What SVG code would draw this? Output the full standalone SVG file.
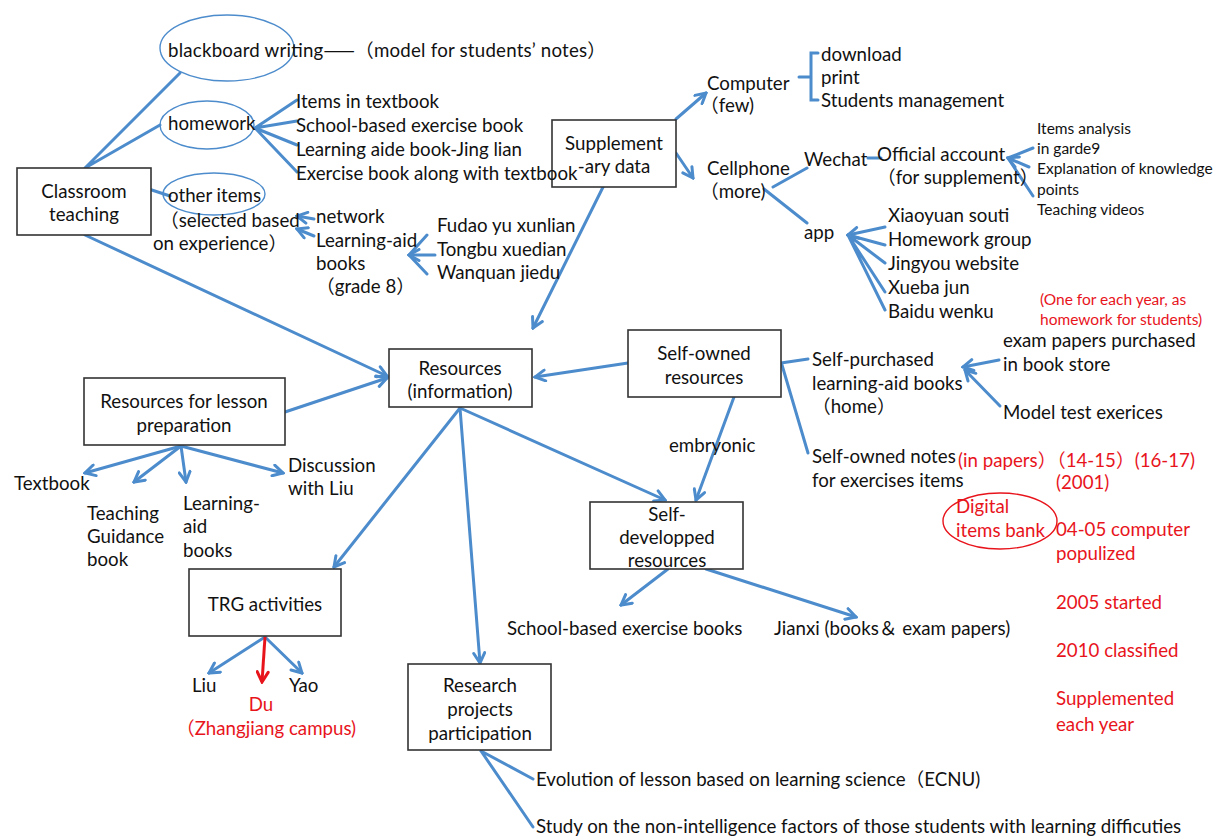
<svg xmlns="http://www.w3.org/2000/svg" width="1216" height="836" viewBox="0 0 1216 836">
<style>
text{font-family:Lato,"Noto Sans CJK SC",sans-serif;font-size:18.7px;fill:#111}
.c{text-anchor:middle}
.s{font-size:15.5px}
.r{fill:#e8141c}
.cjk{font-family:"Noto Sans CJK SC",sans-serif}
.box{fill:#fff;stroke:#333;stroke-width:1.6}
.ln{fill:none;stroke:#4d8ccc;stroke-width:3;stroke-linecap:round}
.ar{marker-end:url(#ah)}
.el{fill:none;stroke:#4d8ccc;stroke-width:1.4}
</style>
<defs>
<marker id="ah" viewBox="0 0 14 14" refX="12" refY="7" markerWidth="14" markerHeight="14" markerUnits="userSpaceOnUse" orient="auto"><path d="M2,1.5 L12,7 L2,12.5" fill="none" stroke="#4d8ccc" stroke-width="3" stroke-linecap="round"/></marker>
<marker id="ahr" viewBox="0 0 14 14" refX="12" refY="7" markerWidth="14" markerHeight="14" markerUnits="userSpaceOnUse" orient="auto"><path d="M2,1.5 L12,7 L2,12.5" fill="none" stroke="#e8141c" stroke-width="3" stroke-linecap="round"/></marker>
</defs>
<rect width="1216" height="836" fill="#fff"/>
<g id="connectors">
<path class="ln" d="M85,168 L180,73 M85,168 L160,125 M85,168 L170,196"/>
<path class="ln ar" d="M85,235 L387,376"/>
<path class="ln" d="M255,128 L297,100 M255,128 L297,121 M255,128 L297,145 M255,128 L297,172"/>
<path class="ln ar" d="M314,219 L297,216"/>
<path class="ln ar" d="M314,236 L297,229"/>
<path class="ln" d="M427,235 L409,255 M427,274 L409,255"/>
<path class="ln ar" d="M435,255 L409,255"/>
<path class="ln ar" d="M676,119 L706,93"/>
<path class="ln ar" d="M676,153 L693,178"/>
<path class="ln" stroke-width="2.5" d="M818,53 L811,53 L811,100 L818,100 M811,77 L799,77"/>
<path class="ln ar" d="M613,167 L533,328"/>
<path class="ln" d="M773,187 L807,168 M764,189 L807,223 M868,158 L881,158"/>
<path class="ln" d="M1033,148 L1008,158 M1033,196 L1008,158"/>
<path class="ln ar" d="M1029,167 L1008,158"/>
<path class="ln" d="M885,245 L848,235 M885,263 L848,235 M885,292 L848,235 M885,310 L848,235"/>
<path class="ln ar" d="M885,227 L848,235"/>
<path class="ln ar" d="M628,363 L535,377"/>
<path class="ln ar" d="M285,412 L387,378"/>
<path class="ln" d="M781,363 L808,359 M782,365 L808,453"/>
<path class="ln ar" d="M999,360 L963,367"/>
<path class="ln ar" d="M1000,406 L965,370"/>
<path class="ln ar" d="M734,397 L696,500"/>
<path class="ln ar" d="M460,408 L665,500"/>
<path class="ln ar" d="M460,408 L334,567"/>
<path class="ln ar" d="M460,408 L480,663"/>
<path class="ln ar" d="M181,446 L85,473"/>
<path class="ln ar" d="M181,446 L134,482"/>
<path class="ln ar" d="M181,446 L186,482"/>
<path class="ln ar" d="M181,446 L283,473"/>
<path class="ln ar" d="M265,637 L209,673"/>
<path class="ln ar" d="M265,637 L302,673"/>
<path fill="none" stroke="#e8141c" stroke-width="3" marker-end="url(#ahr)" d="M265,637 L262,682"/>
<path class="ln ar" d="M668,569 L621,605"/>
<path class="ln ar" d="M706,569 L856,617"/>
<path class="ln" d="M481,751 L533,779 M481,751 L533,827"/>
</g>
<g id="classroom"><rect class="box" x="17" y="168" width="134" height="67"/><text class="c" x="84" y="198">Classroom</text><text class="c" x="84" y="221">teaching</text></g>
<g id="blackboard"><ellipse class="el" cx="227" cy="48" rx="67" ry="33"/><text x="168" y="57" textLength="438" lengthAdjust="spacing">blackboard writing<tspan class="cjk">——（</tspan>model for students’ notes<tspan class="cjk">）</tspan></text></g>
<g id="homework"><ellipse class="el" cx="207" cy="125" rx="47" ry="24"/><text x="168" y="130">homework</text></g>
<g id="other"><ellipse class="el" cx="214" cy="194" rx="51" ry="21"/><text x="168" y="202">other items</text><text x="160" y="227">（selected based</text><text x="153" y="250">on experience）</text></g>
<g id="network"><text x="316" y="223">network</text><text x="316" y="247">Learning-aid</text><text x="316" y="270">books</text><text x="316" y="293">（grade 8）</text></g>
<g id="aidbooks"><text x="437" y="232">Fudao yu xunlian</text><text x="437" y="256">Tongbu xuedian</text><text x="437" y="279">Wanquan jiedu</text></g>
<g id="supplement"><rect class="box" x="552" y="120" width="124" height="67"/><text class="c" x="614" y="150">Supplement</text><text class="c" x="614" y="173">-ary data</text></g>
<g id="hw-items"><text x="296" y="108">Items in textbook</text><text x="296" y="132">School-based exercise book</text><text x="296" y="156">Learning aide book-Jing lian</text><text x="296" y="180">Exercise book along with textbook</text></g>
<g id="computer"><text x="707" y="90">Computer</text><text x="700" y="112">（few)</text></g>
<g id="computer-items"><text x="821" y="61">download</text><text x="821" y="84">print</text><text x="821" y="107">Students management</text></g>
<g id="cellphone"><text x="707" y="175">Cellphone</text><text x="700" y="198">（more)</text></g>
<g id="wechat"><text x="804" y="166">Wechat</text></g>
<g id="official"><text x="877" y="161">Official account</text><text x="877" y="184">（for supplement）</text></g>
<g id="official-items"><text class="s" x="1037" y="134">Items analysis</text><text class="s" x="1037" y="154">in garde9</text><text class="s" x="1037" y="174">Explanation of knowledge</text><text class="s" x="1037" y="195">points</text><text class="s" x="1037" y="215">Teaching videos</text></g>
<g id="app"><text x="804" y="239">app</text></g>
<g id="app-items"><text x="888" y="222">Xiaoyuan souti</text><text x="888" y="246">Homework group</text><text x="888" y="270">Jingyou website</text><text x="888" y="294">Xueba jun</text><text x="888" y="318">Baidu wenku</text></g>
<g id="note-year"><text class="s r" x="1040" y="305">(One for each year, as</text><text class="s r" x="1040" y="325">homework for students)</text></g>
<g id="resources"><rect class="box" x="389" y="349" width="143" height="58"/><text class="c" x="460" y="375">Resources</text><text class="c" x="460" y="398">(information)</text></g>
<g id="selfowned"><rect class="box" x="628" y="330" width="153" height="67"/><text class="c" x="704" y="360">Self-owned</text><text class="c" x="704" y="384">resources</text></g>
<g id="selfpurchased"><text x="812" y="366">Self-purchased</text><text x="812" y="390">learning-aid books</text><text x="812" y="413">（home）</text></g>
<g id="exampapers"><text x="1003" y="347">exam papers purchased</text><text x="1003" y="371">in book store</text><text x="1003" y="419">Model test exerices</text></g>
<g id="notes"><text x="812" y="463">Self-owned notes</text><text x="812" y="487">for exercises items</text><text class="r" x="958" y="467">(in papers）（14-15）(16-17)</text><text class="r" x="1056" y="489">(2001)</text></g>
<g id="embryonic"><text x="669" y="452">embryonic</text></g>
<g id="digital"><ellipse fill="none" stroke="#e8141c" stroke-width="1.4" cx="1000" cy="521" rx="57" ry="28"/><text class="r" x="956" y="513">Digital</text><text class="r" x="956" y="537">items bank</text></g>
<g id="timeline"><text class="r" x="1056" y="536">04-05 computer</text><text class="r" x="1056" y="560">populized</text><text class="r" x="1056" y="609">2005 started</text><text class="r" x="1056" y="657">2010 classified</text><text class="r" x="1056" y="705">Supplemented</text><text class="r" x="1056" y="731">each year</text></g>
<g id="lessonprep"><rect class="box" x="84" y="378" width="201" height="67"/><text class="c" x="184" y="408">Resources for lesson</text><text class="c" x="184" y="432">preparation</text></g>
<g id="lp-items"><text x="14" y="490">Textbook</text><text x="87" y="520">Teaching</text><text x="87" y="543">Guidance</text><text x="87" y="566">book</text><text x="183" y="510">Learning-</text><text x="183" y="533">aid</text><text x="183" y="557">books</text><text x="288" y="472">Discussion</text><text x="288" y="495">with Liu</text></g>
<g id="selfdev"><rect class="box" x="590" y="502" width="153" height="67"/><text class="c" x="667" y="521">Self-</text><text class="c" x="667" y="544">developped</text><text class="c" x="667" y="567">resources</text></g>
<g id="selfdev-items"><text x="507" y="635">School-based exercise books</text><text x="774" y="635">Jianxi (books＆ exam papers)</text></g>
<g id="trg"><rect class="box" x="189" y="569" width="152" height="67"/><text class="c" x="265" y="611">TRG activities</text></g>
<g id="trg-items"><text x="192" y="692">Liu</text><text x="289" y="692">Yao</text><text class="c r" x="261" y="711">Du</text><text class="r" x="176" y="735">（Zhangjiang campus)</text></g>
<g id="research"><rect class="box" x="408" y="664" width="143" height="86"/><text class="c" x="480" y="692">Research</text><text class="c" x="480" y="716">projects</text><text class="c" x="480" y="740">participation</text></g>
<g id="research-items"><text x="536" y="786">Evolution of lesson based on learning science（ECNU)</text><text x="536" y="833">Study on the non-intelligence factors of those students with learning difficuties</text></g>
</svg>
